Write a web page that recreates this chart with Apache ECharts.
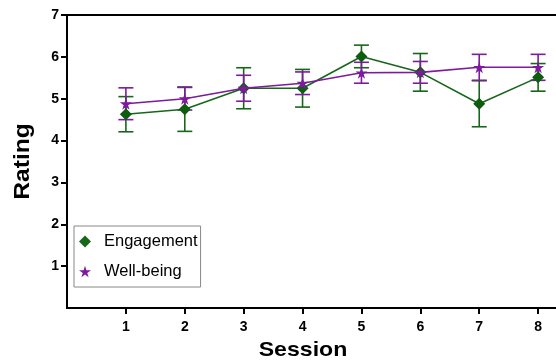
<!DOCTYPE html>
<html>
<head>
<meta charset="utf-8">
<script src="https://cdn.jsdelivr.net/npm/echarts@6/dist/echarts.min.js"></script>
<style>html,body{margin:0;padding:0;background:#fff}#c{width:556px;height:361px}</style>
</head>
<body>
<div id="c"></div>
<script>
var sessions = [1, 2, 3, 4, 5, 6, 7, 8];
var engagement = [4.63, 4.75, 5.25, 5.25, 6.01, 5.63, 4.88, 5.51];
var engagementErr = [0.42, 0.53, 0.49, 0.45, 0.27, 0.45, 0.55, 0.33];
var wellbeing = [4.88, 5.00, 5.25, 5.37, 5.62, 5.63, 5.75, 5.75];
var wellbeingErr = [0.38, 0.27, 0.31, 0.27, 0.25, 0.26, 0.31, 0.31];
var yTicks = [1, 2, 3, 4, 5, 6, 7];

var GREEN = '#17661a';
var PURPLE = '#7d1a9e';
var STAR = 'path://M50,0 L61,35 L98,35 L68,57 L79,91 L50,70 L21,91 L32,57 L2,35 L39,35 Z';
var FONT = 'Liberation Sans, Arial, sans-serif';

function pairs(vals) { return sessions.map(function (s, i) { return [s, vals[i]]; }); }
function errData(vals, errs) { return sessions.map(function (s, i) { return [s, vals[i] - errs[i], vals[i] + errs[i]]; }); }
function errRender(color) {
  return function (params, api) {
    var x = api.value(0);
    var lo = api.coord([x, api.value(1)]);
    var hi = api.coord([x, api.value(2)]);
    var w = 7.5;
    var st = { stroke: color, lineWidth: 1.6 };
    return { type: 'group', children: [
      { type: 'line', shape: { x1: lo[0], y1: lo[1], x2: hi[0], y2: hi[1] }, style: st },
      { type: 'line', shape: { x1: lo[0] - w, y1: lo[1], x2: lo[0] + w, y2: lo[1] }, style: st },
      { type: 'line', shape: { x1: hi[0] - w, y1: hi[1], x2: hi[0] + w, y2: hi[1] }, style: st }
    ]};
  };
}

var chart = echarts.init(document.getElementById('c'));
chart.setOption({
  animation: false,
  backgroundColor: '#fff',
  grid: { left: 67, top: 15, width: 530, height: 293, outerBoundsMode: 'none', containLabel: false,
    show: true, borderColor: '#000', borderWidth: 2, backgroundColor: 'transparent' },
  xAxis: {
    type: 'value', min: 0, max: 9, interval: 1,
    axisLine: { lineStyle: { color: '#000', width: 2 } },
    axisTick: { length: 6, lineStyle: { color: '#000', width: 2 }, customValues: sessions },
    axisLabel: { color: '#000', fontWeight: 'bold', fontSize: 14, fontFamily: FONT, margin: 12, customValues: sessions },
    splitLine: { show: false }
  },
  yAxis: {
    type: 'value', min: 0, max: 7, interval: 1,
    axisLine: { show: true, lineStyle: { color: '#000', width: 2 } },
    axisTick: { show: true, length: 6, lineStyle: { color: '#000', width: 2 }, customValues: yTicks },
    axisLabel: { color: '#000', fontWeight: 'bold', fontSize: 14, fontFamily: FONT, margin: 8, customValues: yTicks },
    splitLine: { show: false }
  },
  graphic: [
    { type: 'text', x: 303, y: 350, scaleX: 1.1,
      style: { text: 'Session', fill: '#000', font: 'bold 21px ' + FONT, align: 'center', verticalAlign: 'middle' } },
    { type: 'text', x: 23, y: 161.5, rotation: Math.PI / 2, scaleX: 1.12,
      style: { text: 'Rating', fill: '#000', font: 'bold 22px ' + FONT, align: 'center', verticalAlign: 'middle' } }
  ],
  legend: {
    orient: 'vertical', left: 74, top: 226,
    padding: [7, 3, 7, 5], itemGap: 13, itemWidth: 12, itemHeight: 12,
    backgroundColor: '#fff', borderColor: '#888', borderWidth: 1, borderRadius: 0,
    textStyle: { color: '#000', fontSize: 16.5, fontFamily: FONT, padding: [0, 0, 0, 8] },
    data: [
      { name: 'Engagement', icon: 'diamond', itemStyle: { color: GREEN } },
      { name: 'Well-being', icon: STAR, itemStyle: { color: PURPLE } }
    ]
  },
  series: [
    { type: 'custom', name: 'EngErr', data: errData(engagement, engagementErr), encode: { x: 0, y: [1, 2] }, renderItem: errRender(GREEN), z: 2 },
    { type: 'custom', name: 'WellErr', data: errData(wellbeing, wellbeingErr), encode: { x: 0, y: [1, 2] }, renderItem: errRender(PURPLE), z: 2 },
    { type: 'line', name: 'Engagement', data: pairs(engagement), symbol: 'diamond', symbolSize: 12,
      lineStyle: { color: GREEN, width: 1.6 }, itemStyle: { color: '#0e5c10' }, z: 3 },
    { type: 'line', name: 'Well-being', data: pairs(wellbeing), symbol: STAR, symbolSize: 12,
      lineStyle: { color: PURPLE, width: 1.6 }, itemStyle: { color: PURPLE }, z: 4 }
  ]
});
</script>
</body>
</html>
